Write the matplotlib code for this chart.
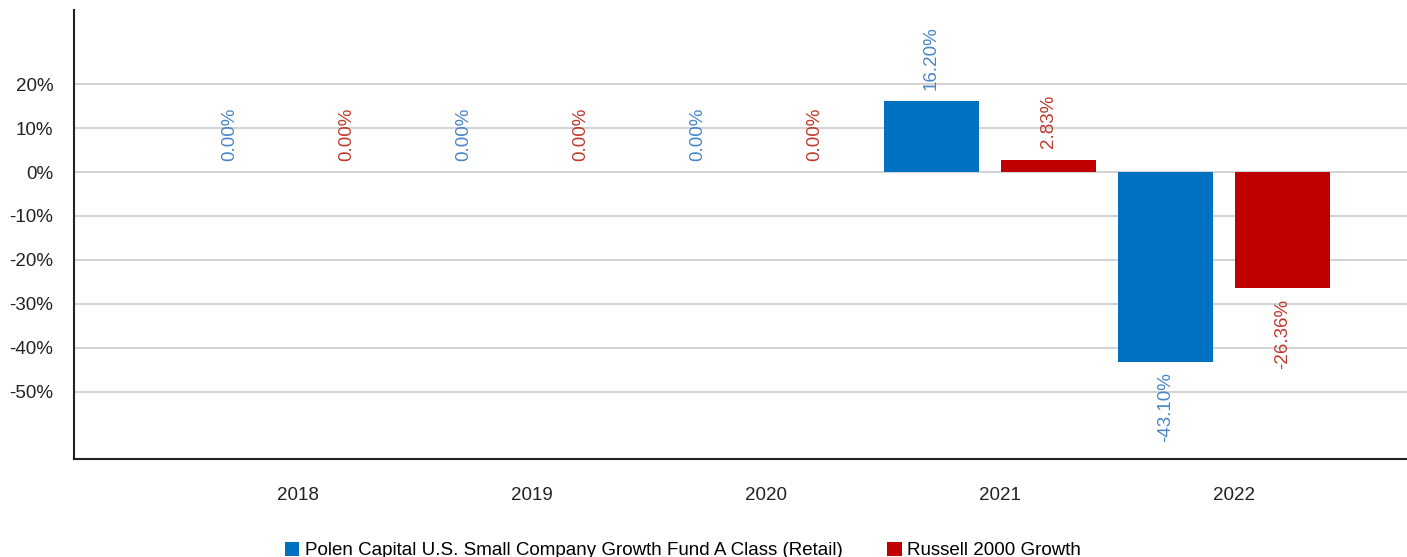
import matplotlib
matplotlib.use("Agg")
import matplotlib.pyplot as plt
import matplotlib.transforms as mtransforms
import numpy as np

plt.rcParams['font.family'] = ['Liberation Sans', 'DejaVu Sans']

years = ["2018", "2019", "2020", "2021", "2022"]
fund_name = "Polen Capital U.S. Small Company Growth Fund A Class (Retail)"
bench_name = "Russell 2000 Growth"
fund_values = [0.00, 0.00, 0.00, 16.20, -43.10]
bench_values = [0.00, 0.00, 0.00, 2.83, -26.36]
yticks = [20, 10, 0, -10, -20, -30, -40, -50]

blue = "#0070c0"
red = "#c00000"
blue_txt = "#4a86c8"
red_txt = "#c0392b"
FS = 13.5

fig = plt.figure(figsize=(14.07, 5.57), dpi=100)
ax = fig.add_axes([74/1407, (557-459)/557, 1 - 74/1407, (459-10)/557])

x = np.arange(len(years))
off = 0.25
w = 0.406
b1 = ax.bar(x - off, fund_values, w, color=blue, label=fund_name, zorder=3)
b2 = ax.bar(x + off, bench_values, w, color=red, label=bench_name, zorder=3)

for bars, vals, col in ((b1, fund_values, blue_txt), (b2, bench_values, red_txt)):
    for rect, v in zip(bars, vals):
        cx = rect.get_x() + rect.get_width() / 2
        if v >= 0:
            ax.annotate(f"{v:.2f}%", (cx, v), xytext=(0, 8), textcoords="offset points",
                        rotation=90, ha="center", va="bottom", color=col, fontsize=FS)
        else:
            ax.annotate(f"{v:.2f}%", (cx, v), xytext=(0, -7.5), textcoords="offset points",
                        rotation=90, ha="center", va="top", color=col, fontsize=FS)

ax.set_ylim(-65.23, 36.82)
ax.set_xlim((74-288)/234, (1407-288)/234)
ax.set_yticks(yticks)
ax.set_yticklabels([f"{t}%" for t in yticks])
ax.set_xticks(x)
ax.set_xticklabels(years)
ax.tick_params(axis="both", length=0, labelsize=FS, colors="#222222")
ax.tick_params(axis="y", pad=15)
ax.tick_params(axis="x", pad=20)
shift = mtransforms.ScaledTranslation(10/100, 0, fig.dpi_scale_trans)
for lab in ax.get_xticklabels():
    lab.set_transform(lab.get_transform() + shift)

ax.grid(axis="y", color="#d4d4d4", linewidth=1.5, zorder=0)
ax.spines["top"].set_visible(False)
ax.spines["right"].set_visible(False)
ax.spines["left"].set_color("#222222")
ax.spines["bottom"].set_color("#222222")
ax.spines["left"].set_linewidth(1.5)
ax.spines["bottom"].set_linewidth(1.5)

fig.legend(handles=[b1, b2], loc="lower left", bbox_to_anchor=(285/1407, -0.004),
           ncol=2, frameon=False, fontsize=FS, handlelength=0.75, handleheight=0.75,
           handletextpad=0.3, columnspacing=2.4, borderpad=0, borderaxespad=0)

fig.savefig("out.png", dpi=100)
